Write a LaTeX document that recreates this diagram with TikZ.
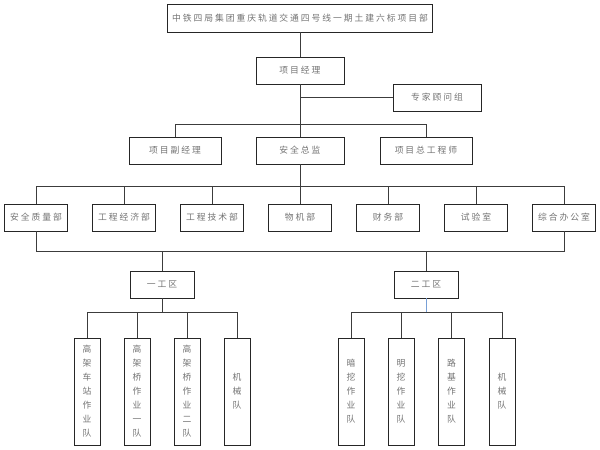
\documentclass[tikz,border=0pt]{standalone}
\usepackage{fontspec}
\newfontfamily\cjkfont[LetterSpace=22]{Noto Sans CJK SC}
\definecolor{txtgray}{RGB}{115,115,115}
\definecolor{linegray}{RGB}{60,60,60}
\definecolor{lineblue}{RGB}{120,160,215}
\tikzset{
  box/.style={draw=black!85, line width=0.9pt, rectangle, inner sep=0pt,
    text=txtgray, font=\cjkfont\fontsize{8.8}{14}\selectfont, align=center},
  hbox/.style={box, minimum height=27pt},
  vbox/.style={box, minimum width=26pt, minimum height=107pt, text width=12pt},
  conn/.style={draw=linegray, line width=0.9pt}
}
\begin{document}
\begin{tikzpicture}[x=1pt,y=-1pt]
\useasboundingbox (0,0) rectangle (600,450);
% top
\node[hbox, minimum width=265pt, minimum height=28pt] (top) at (300,18) {中铁四局集团重庆轨道交通四号线一期土建六标项目部};
\node[hbox, minimum width=88pt] (pm) at (300,70.5) {项目经理};
\node[hbox, minimum width=88pt] (zj) at (437,97.5) {专家顾问组};
% row 2
\node[hbox, minimum width=92pt] (fjl) at (175,150.5) {项目副经理};
\node[hbox, minimum width=88pt] (azj) at (300,150.5) {安全总监};
\node[hbox, minimum width=92pt] (zgcs) at (426,150.5) {项目总工程师};
% row 3
\node[hbox, minimum width=63pt] (d1) at (36,217.5) {安全质量部};
\node[hbox, minimum width=63pt] (d2) at (124,217.5) {工程经济部};
\node[hbox, minimum width=63pt] (d3) at (212,217.5) {工程技术部};
\node[hbox, minimum width=63pt] (d4) at (300,217.5) {物机部};
\node[hbox, minimum width=63pt] (d5) at (388,217.5) {财务部};
\node[hbox, minimum width=63pt] (d6) at (476,217.5) {试验室};
\node[hbox, minimum width=63pt] (d7) at (564,217.5) {综合办公室};
% work areas
\node[hbox, minimum width=64pt] (g1) at (162,284.5) {一工区};
\node[hbox, minimum width=64pt] (g2) at (426,284.5) {二工区};
% teams
\node[vbox] (a1) at (87,391.5) {高\\架\\车\\站\\作\\业\\队};
\node[vbox] (a2) at (137,391.5) {高\\架\\桥\\作\\业\\一\\队};
\node[vbox] (a3) at (187,391.5) {高\\架\\桥\\作\\业\\二\\队};
\node[vbox] (a4) at (237,391.5) {机\\械\\队};
\node[vbox] (b1) at (351,391.5) {暗\\挖\\作\\业\\队};
\node[vbox] (b2) at (401,391.5) {明\\挖\\作\\业\\队};
\node[vbox] (b3) at (451.5,391.5) {路\\基\\作\\业\\队};
\node[vbox] (b4) at (502,391.5) {机\\械\\队};
% connectors
\draw[conn] (top.south) -- (pm.north);
\draw[conn] (pm.south) -- (azj.north);
\draw[conn] (zj.west) -- (zj.west -| pm.south);
\draw[conn] (fjl.north) -- (fjl.north |- 0,124) -- (zgcs.north |- 0,124) -- (zgcs.north);
\draw[conn] (azj.south) -- (d4.north);
\draw[conn] (d1.north) -- (d1.north |- 0,186) -- (d7.north |- 0,186) -- (d7.north);
\foreach \n in {d2,d3,d5,d6} \draw[conn] (\n.north) -- (\n.north |- 0,186);
\draw[conn] (d1.south) -- (d1.south |- 0,251) -- (d7.south |- 0,251) -- (d7.south);
\draw[conn] (g1.north |- 0,251) -- (g1.north);
\draw[conn] (g2.north |- 0,251) -- (g2.north);
\draw[conn] (g1.south) -- (g1.south |- 0,312);
\draw[conn] (a1.north) -- (a1.north |- 0,312) -- (a4.north |- 0,312) -- (a4.north);
\foreach \n in {a2,a3} \draw[conn] (\n.north) -- (\n.north |- 0,312);
\draw[draw=lineblue, line width=0.9pt] (g2.south) -- (g2.south |- 0,312);
\draw[conn] (b1.north) -- (b1.north |- 0,312) -- (b4.north |- 0,312) -- (b4.north);
\foreach \n in {b2,b3} \draw[conn] (\n.north) -- (\n.north |- 0,312);
\end{tikzpicture}
\end{document}
